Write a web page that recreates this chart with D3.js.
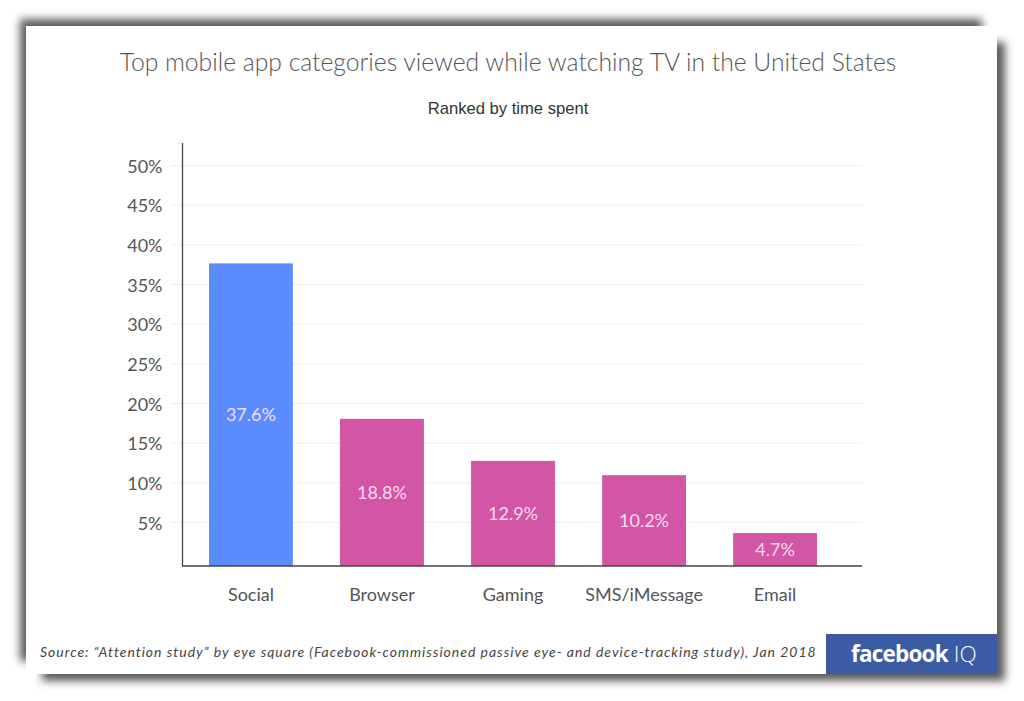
<!DOCTYPE html>
<meta charset="utf-8">
<title>Top mobile app categories</title>
<style>
html, body { margin: 0; padding: 0; background: #fff; }
svg { display: block; }
.tick text { font-family: Lato, sans-serif; fill: #555; }
</style>
<body></body>
<script src="https://cdn.jsdelivr.net/npm/d3@7"></script>
<script>

var categories = ["Social", "Browser", "Gaming", "SMS/iMessage", "Email"];
// bar heights as drawn in the picture, the printed labels differ a bit
var barValues = [37.6, 18.0, 12.7, 10.9, 3.6];
var barLabels = ["37.6%", "18.8%", "12.9%", "10.2%", "4.7%"];
var barColors = ["#5b8cff", "#d355a5", "#d355a5", "#d355a5", "#d355a5"];
var yTicks = [5, 10, 15, 20, 25, 30, 35, 40, 45, 50];

var width = 1024, height = 701;

var svg = d3.select("body").append("svg")
    .attr("width", width)
    .attr("height", height);

var blur = svg.append("defs").append("filter")
    .attr("id", "blur")
    .attr("x", "-5%").attr("y", "-5%")
    .attr("width", "110%").attr("height", "110%");
blur.append("feGaussianBlur").attr("stdDeviation", 4.5);

// two offset shadows behind the card
svg.append("rect")
    .attr("x", 20).attr("y", 19)
    .attr("width", 962).attr("height", 642)
    .attr("fill", "#5c5c5c")
    .attr("filter", "url(#blur)");
svg.append("rect")
    .attr("x", 42).attr("y", 42)
    .attr("width", 963).attr("height", 639)
    .attr("fill", "#5c5c5c")
    .attr("filter", "url(#blur)");

// card
svg.append("rect")
    .attr("x", 26).attr("y", 26)
    .attr("width", 971).attr("height", 648)
    .attr("fill", "#fff");

svg.append("text")
    .attr("x", 508).attr("y", 71)
    .attr("text-anchor", "middle")
    .attr("font-family", "Lato, sans-serif")
    .attr("font-weight", 300)
    .attr("font-size", 24.7)
    .attr("fill", "#555")
    .text("Top mobile app categories viewed while watching TV in the United States");

svg.append("text")
    .attr("x", 508).attr("y", 114)
    .attr("text-anchor", "middle")
    .attr("font-family", "'Liberation Sans', sans-serif")
    .attr("font-size", 16.6)
    .attr("fill", "#333")
    .text("Ranked by time spent");

var x = d3.scaleBand()
    .domain(categories)
    .range([209, 817])
    .paddingInner(0.36);

// the baseline sits a little under the zero of the gridlines
var y = d3.scaleLinear()
    .domain([-0.55, 50])
    .range([566, 165]);

// gridlines
svg.append("g")
    .selectAll("line")
    .data(yTicks)
    .join("line")
    .attr("x1", 171)
    .attr("x2", 862)
    .attr("y1", function(d) { return y(d) + 0.5; })
    .attr("y2", function(d) { return y(d) + 0.5; })
    .attr("stroke", "#eeeeee")
    .attr("stroke-width", 1);

// bars
svg.append("g")
    .selectAll("rect")
    .data(categories)
    .join("rect")
    .attr("x", function(d) { return x(d); })
    .attr("y", function(d, i) { return y(barValues[i]); })
    .attr("width", x.bandwidth())
    .attr("height", function(d, i) { return y(-0.55) - y(barValues[i]); })
    .attr("fill", function(d, i) { return barColors[i]; });

// labels in the middle of the bars
svg.append("g")
    .selectAll("text")
    .data(categories)
    .join("text")
    .attr("x", function(d) { return x(d) + x.bandwidth() / 2; })
    .attr("y", function(d, i) { return (y(barValues[i]) + y(-0.55)) / 2; })
    .attr("dy", "0.35em")
    .attr("text-anchor", "middle")
    .attr("font-family", "Lato, sans-serif")
    .attr("font-size", 18)
    .attr("fill", "#f7dcef")
    .text(function(d, i) { return barLabels[i]; });

// axes
var yAxis = svg.append("g")
    .attr("transform", "translate(182.5,0)")
    .call(d3.axisLeft(y)
      .tickValues(yTicks)
      .tickSize(0)
      .tickPadding(20)
      .tickFormat(function(d) { return d + "%"; }));
yAxis.select(".domain")
    .attr("d", "M0," + 143 + "V" + y(-0.55))
    .attr("stroke", "#444")
    .attr("stroke-width", 1.3);
yAxis.selectAll("text")
    .attr("font-size", 18)
    .attr("y", 1.5);

var xAxis = svg.append("g")
    .attr("transform", "translate(0," + y(-0.55) + ")")
    .call(d3.axisBottom(x).tickSize(0).tickPadding(22));
xAxis.select(".domain")
    .attr("d", "M182,0H862")
    .attr("stroke", "#444")
    .attr("stroke-width", 1.3);
xAxis.selectAll("text").attr("font-size", 18);

// footer
svg.append("text")
    .attr("x", 40).attr("y", 657)
    .attr("font-family", "Lato, sans-serif")
    .attr("font-style", "italic")
    .attr("font-size", 14)
    .attr("letter-spacing", 0.98)
    .attr("fill", "#444")
    .text("Source: \u201CAttention study\u201D by eye square (Facebook-commissioned passive eye- and device-tracking study), Jan 2018");

svg.append("rect")
    .attr("x", 826).attr("y", 634)
    .attr("width", 171).attr("height", 40)
    .attr("fill", "#3b5ba5");

var logo = svg.append("text")
    .attr("x", 851).attr("y", 662)
    .attr("font-family", "'Open Sans', sans-serif")
    .attr("font-size", 22.5)
    .attr("fill", "#fff");
logo.append("tspan")
    .attr("font-weight", 700)
    .attr("letter-spacing", -0.8)
    .text("facebook");
logo.append("tspan")
    .attr("dx", 6)
    .attr("font-weight", 300)
    .text("IQ");

</script>
